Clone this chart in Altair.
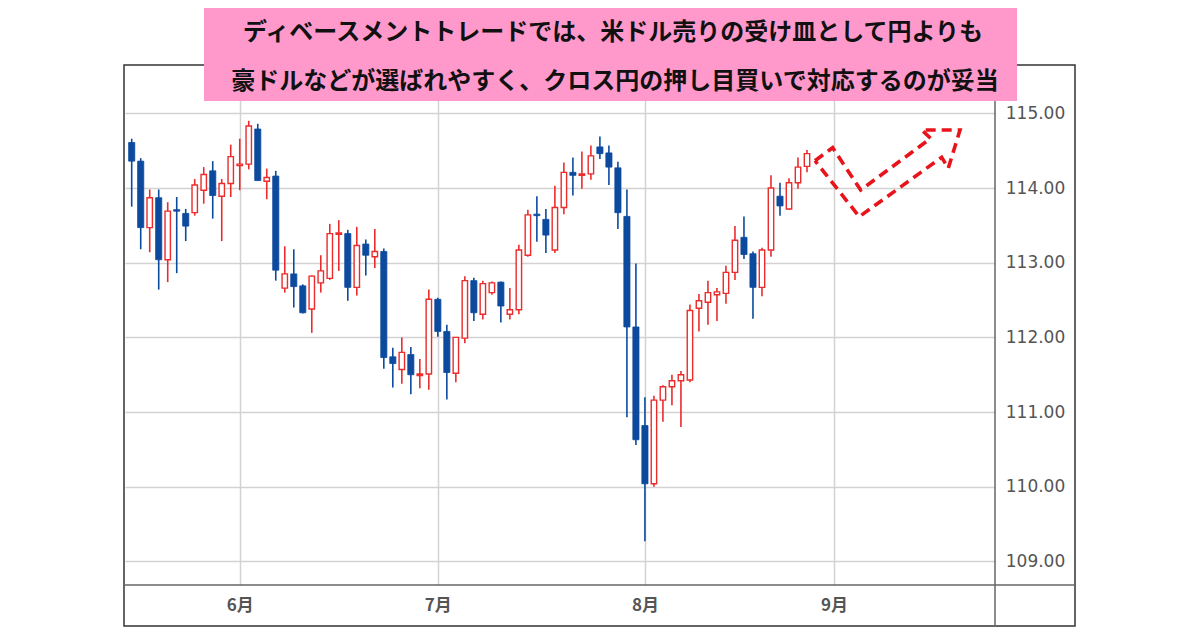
import altair as alt
import pandas as pd

# ---- data (daily candles, trading-day index) ----
idx = list(range(1, 77))
opens = [114.61, 114.36, 113.47, 113.87, 113.04, 113.71, 113.66, 113.67, 113.97, 114.23,
         113.89, 114.06, 114.30, 114.32, 114.79, 114.09, 114.16, 112.66, 112.85, 112.69,
         112.38, 112.73, 112.79, 113.38, 113.39, 112.67, 113.25, 113.08, 113.15, 111.74,
         111.57, 111.77, 111.49, 111.51, 112.51, 112.08, 111.52, 111.99, 112.76, 112.31,
         112.60, 112.74, 112.31, 112.37, 113.10, 113.65, 113.58, 113.17, 113.74, 114.21,
         114.17, 114.19, 114.55, 114.47, 114.27, 113.62, 112.14, 110.82, 110.04, 111.16,
         111.34, 111.42, 111.43, 112.39, 112.47, 112.57, 112.59, 112.87, 113.34, 113.12,
         112.67, 113.17, 113.89, 113.72, 114.07, 114.29]
highs = [114.66, 114.40, 113.98, 113.98, 113.81, 113.88, 113.72, 114.12, 114.28, 114.36,
         114.12, 114.58, 114.66, 114.90, 114.86, 114.26, 114.23, 113.22, 113.18, 112.71,
         112.83, 113.10, 113.52, 113.57, 113.44, 113.48, 113.31, 113.45, 113.19, 111.86,
         112.00, 111.87, 111.71, 112.64, 112.53, 112.17, 112.00, 112.82, 112.80, 112.76,
         112.75, 112.75, 112.66, 113.24, 113.71, 113.89, 113.72, 114.03, 114.34, 114.41,
         114.49, 114.57, 114.69, 114.57, 114.35, 113.98, 112.99, 111.20, 111.22, 111.36,
         111.50, 111.55, 112.44, 112.58, 112.76, 112.66, 112.96, 113.49, 113.62, 113.15,
         113.20, 114.17, 114.07, 114.13, 114.41, 114.51]
lows = [113.75, 113.18, 113.14, 112.64, 112.74, 112.86, 113.29, 113.63, 113.79, 113.59,
        113.29, 113.88, 113.97, 114.25, 114.10, 113.85, 112.76, 112.60, 112.40, 112.32,
        112.06, 112.60, 112.77, 112.89, 112.49, 112.56, 112.83, 112.93, 111.58, 111.33,
        111.38, 111.24, 111.32, 111.30, 112.01, 111.17, 111.40, 111.92, 112.22, 112.24,
        112.57, 112.20, 112.24, 112.31, 113.08, 113.28, 113.13, 113.13, 113.65, 113.90,
        113.99, 114.11, 114.39, 114.04, 113.45, 110.93, 110.56, 109.27, 110.00, 110.87,
        111.09, 110.80, 111.40, 112.08, 112.17, 112.22, 112.45, 112.77, 113.05, 112.25,
        112.55, 113.08, 113.63, 113.71, 113.99, 114.21]
closes = [114.36, 113.47, 113.87, 113.04, 113.69, 113.69, 113.49, 114.04, 114.18, 113.90,
          114.06, 114.42, 114.32, 114.83, 114.10, 114.14, 112.90, 112.85, 112.68, 112.33,
          112.82, 112.89, 113.39, 113.40, 112.67, 113.23, 113.10, 113.15, 111.73, 111.65,
          111.80, 111.50, 111.51, 112.51, 112.08, 111.53, 112.00, 112.76, 112.33, 112.72,
          112.73, 112.42, 112.37, 113.17, 113.64, 113.63, 113.37, 113.74, 114.21, 114.17,
          114.19, 114.43, 114.46, 114.28, 113.67, 112.14, 110.63, 110.04, 111.16, 111.34,
          111.42, 111.50, 112.36, 112.49, 112.60, 112.61, 112.87, 113.30, 113.11, 112.67,
          113.17, 114.00, 113.76, 114.07, 114.28, 114.46]

month_pos = [13, 35, 58, 79]
month_labels = ["6月", "7月", "8月", "9月"]
price_ticks = [109, 110, 111, 112, 113, 114, 115]

# outlook arrow (dashed outline), in index / price units
arrow_x = [76.89, 78.85, 81.96, 89.74, 88.74, 92.99, 91.69, 90.96, 81.81, 76.89]
arrow_y = [114.365, 114.54, 113.973, 114.665, 114.776, 114.776, 114.264, 114.411, 113.616, 114.365]

title_lines = ["ディベースメントトレードでは、米ドル売りの受け皿として円よりも",
               "豪ドルなどが選ばれやすく、クロス円の押し目買いで対応するのが妥当"]

# ---- build ----
df = pd.DataFrame({"i": idx, "open": opens, "high": highs, "low": lows, "close": closes})
df["dir"] = ["up" if c >= o else "down" for o, c in zip(opens, closes)]
arrow_df = pd.DataFrame({"i": arrow_x, "p": arrow_y, "k": list(range(len(arrow_x)))})

RED = "#ec2b2b"
BLUE = "#0c4a9e"
GRID = "#d2d2d2"

label_expr = " : ".join(
    f"datum.value == {p} ? '{l}'" for p, l in zip(month_pos, month_labels)
) + " : ''"

xscale = alt.Scale(domain=[0.256, 96.88], nice=False, zero=False)
yscale = alt.Scale(domain=[108.685, 115.647], nice=False, zero=False)

xaxis = alt.Axis(values=month_pos, labelExpr=label_expr, title=None, grid=True,
                 gridColor=GRID, gridWidth=1.5, ticks=False, tickSize=0, domain=False,
                 labelFont="Noto Sans CJK JP", labelFontWeight="bold", labelFontSize=17,
                 labelColor="#555555", labelPadding=20, labelBaseline="middle")
yaxis = alt.Axis(orient="right", values=price_ticks, format=".2f", title=None, grid=True,
                 gridColor=GRID, gridWidth=1.5, ticks=False, tickSize=0, domain=False,
                 labelFont="DejaVu Sans", labelFontSize=17, labelColor="#555555",
                 labelAlign="center", labelPadding=40, labelBaseline="middle")


def X(field):
    return alt.X(field, type="quantitative", scale=xscale, axis=xaxis)


def Y(field):
    return alt.Y(field, type="quantitative", scale=yscale, axis=yaxis)


base = alt.Chart(df)

wicks = base.mark_rule(strokeWidth=1.6).encode(
    x=X("i"), y=Y("low"), y2="high",
    color=alt.Color("dir:N", scale=alt.Scale(domain=["up", "down"], range=[RED, BLUE]), legend=None),
)

up_body = base.transform_filter("datum.dir == 'up'").transform_calculate(
    x0="datum.i - 0.3", x1="datum.i + 0.3", bt="max(datum.open, datum.close)",
    bb="min(datum.open, datum.close)",
).mark_rect(fill="white", stroke=RED, strokeWidth=1.4).encode(
    x=X("x0"), x2="x1", y=Y("bt"), y2="bb"
)

down_body = base.transform_filter("datum.dir == 'down'").transform_calculate(
    x0="datum.i - 0.34", x1="datum.i + 0.34", bt="max(datum.open, datum.close)",
    bb="min(datum.open, datum.close)",
).mark_rect(fill=BLUE, stroke=BLUE, strokeWidth=0.8).encode(
    x=X("x0"), x2="x1", y=Y("bt"), y2="bb"
)

arrow = alt.Chart(arrow_df).mark_line(
    color="#e8141b", strokeWidth=3.6, strokeDash=[10, 6], strokeJoin="miter"
).encode(x=X("i"), y=Y("p"), order="k:Q")

one = pd.DataFrame({"a": [0]})
frame = alt.Chart(one).mark_rect(fillOpacity=0, stroke="#333333", strokeWidth=1.5).encode(
    x=alt.value(-1), x2=alt.value(950), y=alt.value(0), y2=alt.value(561)
)
vdiv = alt.Chart(one).mark_rule(color="#666666", strokeWidth=1.5).encode(
    x=alt.value(870), y=alt.value(0), y2=alt.value(561)
)
hdiv = alt.Chart(one).mark_rule(color="#666666", strokeWidth=1.5).encode(
    x=alt.value(-1), x2=alt.value(950), y=alt.value(520)
)
pink = alt.Chart(one).mark_rect(fill="#ff99cc").encode(
    x=alt.value(79), x2=alt.value(892), y=alt.value(-62), y2=alt.value(36)
)
t1 = alt.Chart(one).mark_text(font="Noto Sans CJK JP", fontWeight="bold", fontSize=24,
                              color="#111111", align="center", baseline="middle").encode(
    x=alt.value(488), y=alt.value(-32), text=alt.value(title_lines[0])
)
t2 = alt.Chart(one).mark_text(font="Noto Sans CJK JP", fontWeight="bold", fontSize=24,
                              color="#111111", align="center", baseline="middle").encode(
    x=alt.value(490), y=alt.value(17), text=alt.value(title_lines[1])
)

chart = alt.layer(wicks, up_body, down_body, arrow, frame, vdiv, hdiv, pink, t1, t2).properties(
    width=870, height=520,
    autosize=alt.AutoSizeParams(type="none"),
    padding={"left": 117, "top": 57, "right": 120, "bottom": 44},
    background="white",
).configure_view(strokeWidth=0)

chart.save("out.html", embed_options={"renderer": "svg", "actions": False})
